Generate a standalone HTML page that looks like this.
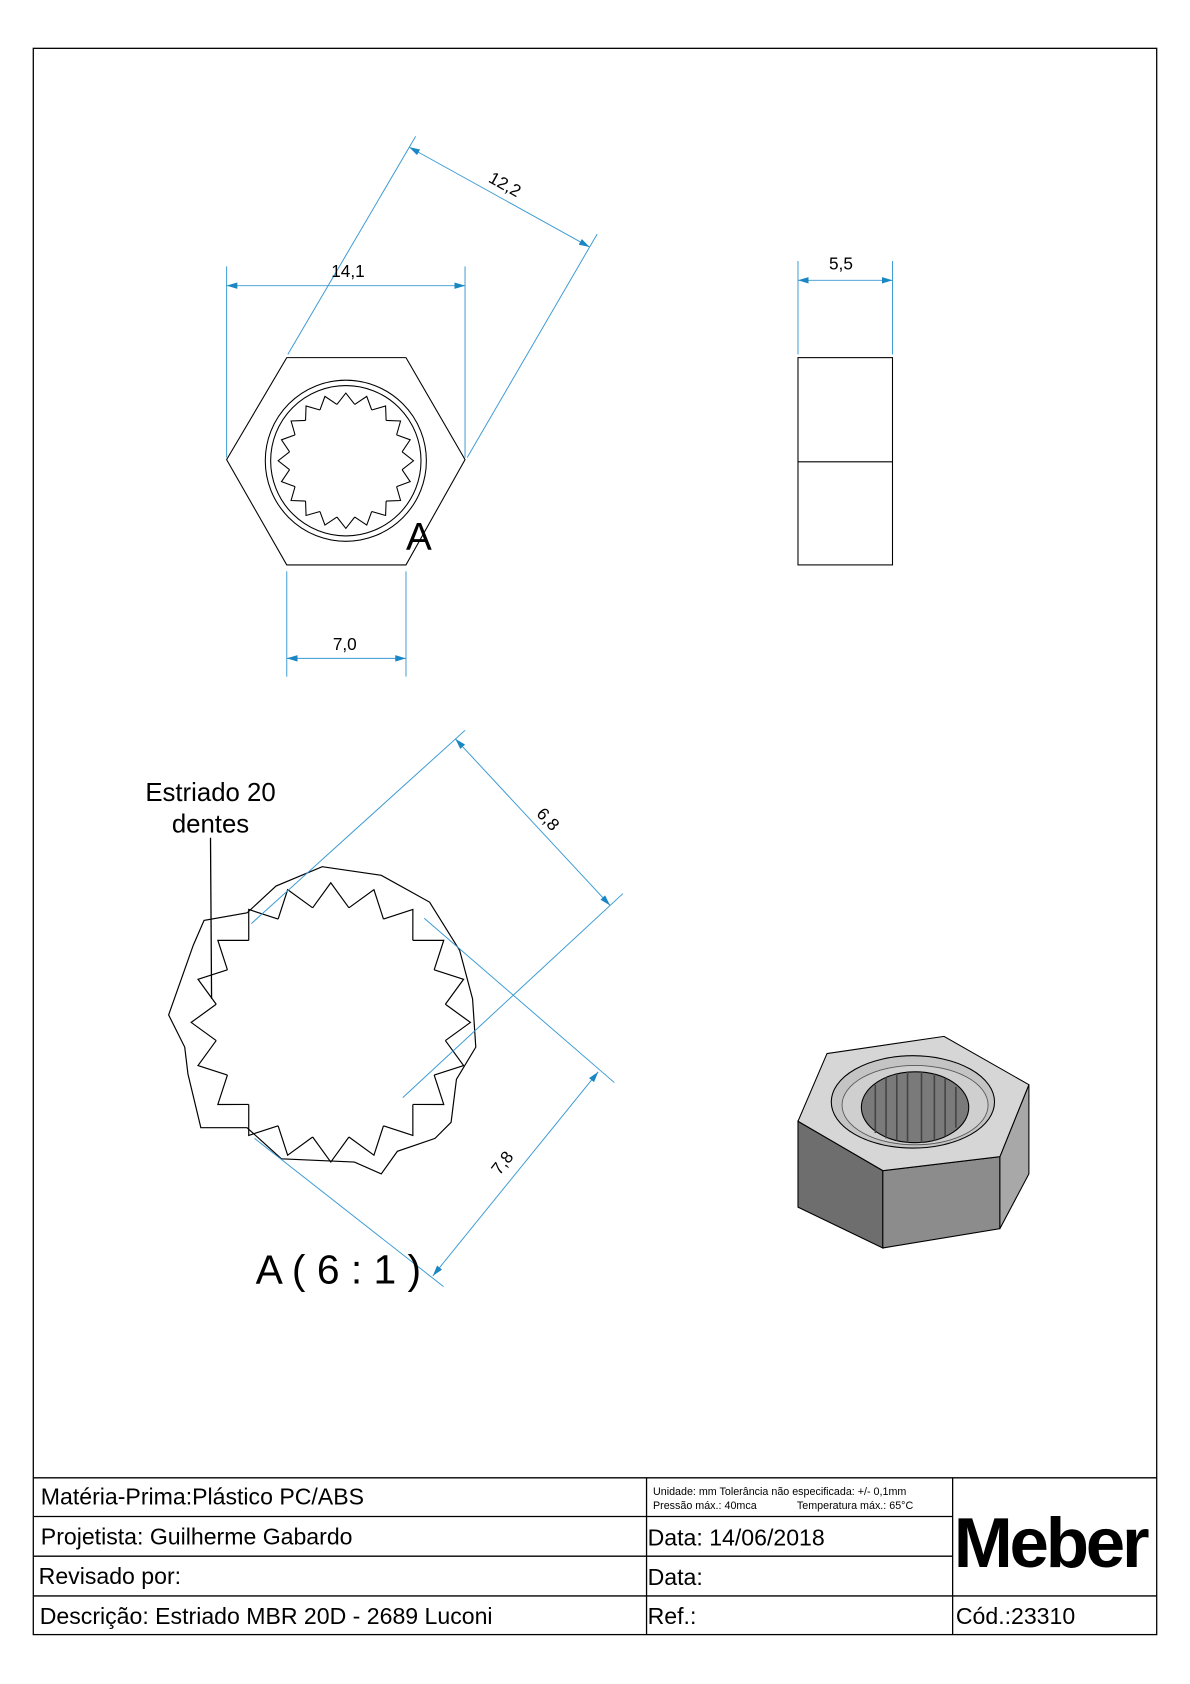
<!DOCTYPE html>
<html><head><meta charset="utf-8"><style>
html,body{margin:0;padding:0;background:#fff;}
svg{display:block;}
text{font-family:"Liberation Sans",Arial,sans-serif;fill:#000;}
</style></head><body>
<svg width="1190" height="1684" viewBox="0 0 1108 1568" preserveAspectRatio="none" xmlns="http://www.w3.org/2000/svg">
<defs>
<marker id="ar" viewBox="0 0 10 6" refX="10" refY="3" markerWidth="10" markerHeight="6" orient="auto-start-reverse" markerUnits="userSpaceOnUse">
<path d="M0,0 L10,3 L0,6 z" fill="#1a86c4"/></marker>
<polyline id="t1" points="52.4,-8.3 63,0 52.4,8.3" fill="none" stroke="#000" stroke-width="1"/>
<polyline id="t2" points="106.7,-16.9 130,0 106.7,16.9" fill="none" stroke="#000" stroke-width="1.1"/>
</defs>
<rect x="31" y="45" width="1046" height="1477" fill="none" stroke="#000" stroke-width="1.2"/>
<g stroke="#000" stroke-width="1.2">
<line x1="31" y1="1376" x2="1077" y2="1376"/>
<line x1="31" y1="1412" x2="887" y2="1412"/>
<line x1="31" y1="1449" x2="887" y2="1449"/>
<line x1="31" y1="1486" x2="1077" y2="1486"/>
<line x1="602" y1="1376" x2="602" y2="1522"/>
<line x1="887" y1="1376" x2="887" y2="1522"/>
</g>
<text x="38" y="1401" font-size="21.5">Matéria-Prima:Plástico PC/ABS</text>
<text x="38" y="1438" font-size="21.5">Projetista: Guilherme Gabardo</text>
<text x="36" y="1475" font-size="21.5">Revisado por:</text>
<text x="37" y="1512" font-size="21.5">Descrição: Estriado MBR 20D - 2689 Luconi</text>
<text x="608" y="1392" font-size="10">Unidade: mm Tolerância não especificada: +/- 0,1mm</text>
<text x="608" y="1405" font-size="10">Pressão máx.: 40mca<tspan x="742">Temperatura máx.: 65°C</tspan></text>
<text x="603" y="1439" font-size="21.5">Data: 14/06/2018</text>
<text x="603" y="1476" font-size="21.5">Data:</text>
<text x="603" y="1512" font-size="21.5">Ref.:</text>
<text x="890" y="1512" font-size="21.5">Cód.:23310</text>
<text x="888" y="1459" font-size="66" font-weight="bold" letter-spacing="-3">Meber</text>

<polygon points="211,428 267,333 378,333 433,428 378,526 267,526" fill="none" stroke="#000" stroke-width="1"/>
<circle cx="322" cy="429" r="75" fill="none" stroke="#000" stroke-width="1"/>
<circle cx="322" cy="429" r="70" fill="none" stroke="#000" stroke-width="1"/>
<g transform="translate(322,429)">
<use href="#t1"/><use href="#t1" transform="rotate(18)"/><use href="#t1" transform="rotate(36)"/><use href="#t1" transform="rotate(54)"/><use href="#t1" transform="rotate(72)"/><use href="#t1" transform="rotate(90)"/><use href="#t1" transform="rotate(108)"/><use href="#t1" transform="rotate(126)"/><use href="#t1" transform="rotate(144)"/><use href="#t1" transform="rotate(162)"/><use href="#t1" transform="rotate(180)"/><use href="#t1" transform="rotate(198)"/><use href="#t1" transform="rotate(216)"/><use href="#t1" transform="rotate(234)"/><use href="#t1" transform="rotate(252)"/><use href="#t1" transform="rotate(270)"/><use href="#t1" transform="rotate(288)"/><use href="#t1" transform="rotate(306)"/><use href="#t1" transform="rotate(324)"/><use href="#t1" transform="rotate(342)"/>
</g>
<text x="378" y="512" font-size="36">A</text>

<g stroke="#3a9ad4" stroke-width="0.9" fill="none">
<line x1="211" y1="248" x2="211" y2="426"/>
<line x1="433" y1="248" x2="433" y2="426"/>
<line x1="211" y1="266" x2="433" y2="266" marker-start="url(#ar)" marker-end="url(#ar)"/>
<line x1="267" y1="532" x2="267" y2="630"/>
<line x1="378" y1="532" x2="378" y2="630"/>
<line x1="267" y1="613" x2="378" y2="613" marker-start="url(#ar)" marker-end="url(#ar)"/>
<line x1="268" y1="330" x2="387" y2="127"/>
<line x1="435" y1="426" x2="556" y2="218"/>
<line x1="381" y1="137" x2="549" y2="230" marker-start="url(#ar)" marker-end="url(#ar)"/>
<line x1="743" y1="243" x2="743" y2="330"/>
<line x1="831" y1="243" x2="831" y2="330"/>
<line x1="743" y1="261" x2="831" y2="261" marker-start="url(#ar)" marker-end="url(#ar)"/>
</g>
<text x="324" y="258" font-size="16" text-anchor="middle">14,1</text>
<text x="321" y="605" font-size="16" text-anchor="middle">7,0</text>
<text x="783" y="251" font-size="16" text-anchor="middle">5,5</text>
<text x="470" y="177" font-size="16" text-anchor="middle" transform="rotate(29 470 172)">12,2</text>

<rect x="743" y="333" width="88" height="193" fill="none" stroke="#000" stroke-width="1"/>
<line x1="743" y1="430" x2="831" y2="430" stroke="#000" stroke-width="1"/>

<polygon points="157,945 180,880 190,857 230,850 257,825 300,807 355,815 400,840 428,885 440,930 443,975 425,1005 420,1045 405,1060 370,1072 355,1093 330,1082 262,1079 230,1050 187,1050 175,1000 172,975" fill="none" stroke="#000" stroke-width="1.1"/>
<g transform="translate(308,952)">
<use href="#t2"/><use href="#t2" transform="rotate(18)"/><use href="#t2" transform="rotate(36)"/><use href="#t2" transform="rotate(54)"/><use href="#t2" transform="rotate(72)"/><use href="#t2" transform="rotate(90)"/><use href="#t2" transform="rotate(108)"/><use href="#t2" transform="rotate(126)"/><use href="#t2" transform="rotate(144)"/><use href="#t2" transform="rotate(162)"/><use href="#t2" transform="rotate(180)"/><use href="#t2" transform="rotate(198)"/><use href="#t2" transform="rotate(216)"/><use href="#t2" transform="rotate(234)"/><use href="#t2" transform="rotate(252)"/><use href="#t2" transform="rotate(270)"/><use href="#t2" transform="rotate(288)"/><use href="#t2" transform="rotate(306)"/><use href="#t2" transform="rotate(324)"/><use href="#t2" transform="rotate(342)"/>
</g>
<line x1="196" y1="780" x2="197" y2="930" stroke="#000" stroke-width="1.2"/>
<text x="196" y="746" font-size="24" text-anchor="middle">Estriado 20</text>
<text x="196" y="775" font-size="24" text-anchor="middle">dentes</text>
<g stroke="#3a9ad4" stroke-width="0.9" fill="none">
<line x1="433" y1="680" x2="234" y2="860"/>
<line x1="580" y1="832" x2="375" y2="1022"/>
<line x1="424" y1="688" x2="568" y2="843" marker-start="url(#ar)" marker-end="url(#ar)"/>
<line x1="395" y1="855" x2="572" y2="1008"/>
<line x1="237" y1="1060" x2="413" y2="1198"/>
<line x1="557" y1="998" x2="403" y2="1188" marker-start="url(#ar)" marker-end="url(#ar)"/>
</g>
<text x="510" y="768" font-size="16" text-anchor="middle" transform="rotate(47 510 763)">6,8</text>
<text x="468" y="1088" font-size="16" text-anchor="middle" transform="rotate(-52 468 1083)">7,8</text>
<text x="238" y="1195" font-size="38">A ( 6 : 1 )</text>

<polygon points="743,1044 822,1090 822,1162 743,1124" fill="#6e6e6e" stroke="#000" stroke-width="1"/>
<polygon points="822,1090 931,1077 931,1144 822,1162" fill="#8c8c8c" stroke="#000" stroke-width="1"/>
<polygon points="931,1077 958,1010 958,1093 931,1144" fill="#a8a8a8" stroke="#000" stroke-width="1"/>
<polygon points="770,981 879,965 958,1010 931,1077 822,1090 743,1044" fill="#d6d6d6" stroke="#000" stroke-width="1"/>
<ellipse cx="850" cy="1026" rx="76" ry="43" fill="#c4c4c4" stroke="#000" stroke-width="1"/>
<ellipse cx="852" cy="1029" rx="68" ry="37" fill="#cfcfcf" stroke="#555" stroke-width="0.8"/>
<ellipse cx="852" cy="1031" rx="50" ry="33" fill="#7a7a7a" stroke="#000" stroke-width="1"/>
<g stroke="#444" stroke-width="1.5">
<line x1="815" y1="1010" x2="815" y2="1055"/><line x1="825" y1="1003" x2="825" y2="1060"/><line x1="835" y1="1000" x2="835" y2="1062"/><line x1="845" y1="998" x2="845" y2="1064"/><line x1="858" y1="998" x2="858" y2="1064"/><line x1="870" y1="1000" x2="870" y2="1062"/><line x1="880" y1="1004" x2="880" y2="1058"/><line x1="890" y1="1012" x2="890" y2="1050"/>
</g>
</svg>
</body></html>
